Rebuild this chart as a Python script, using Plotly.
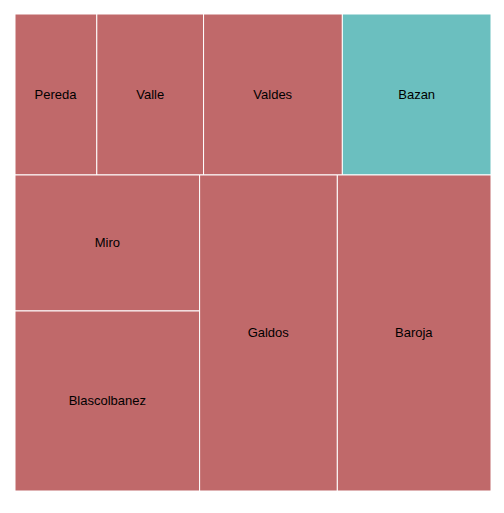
import plotly.graph_objects as go

labels = ["Pereda", "Valle", "Valdes", "Bazan", "Miro", "Blascolbanez", "Galdos", "Baroja"]
values = [5.8, 7.57, 9.84, 10.54, 11.06, 14.64, 19.17, 21.39]
highlight = ["Bazan"]

base_color = "#C0696A"
hi_color = "#6BBFBF"
colors = [hi_color if l in highlight else base_color for l in labels]

fig = go.Figure(go.Treemap(
    labels=labels,
    parents=[""] * len(labels),
    values=values,
    sort=False,
    marker=dict(colors=colors, line=dict(color="white", width=1), depthfade=False,
                pad=dict(t=0, l=0, r=0, b=0)),
    tiling=dict(packing="squarify", squarifyratio=1.618, pad=0),
    pathbar=dict(visible=False),
    textinfo="label",
    textposition="middle center",
    textfont=dict(family="Liberation Sans, Arial, sans-serif", size=13, color="black"),
    hoverinfo="label+value",
))
fig.update_layout(
    width=504, height=513,
    margin=dict(l=15, r=13, t=14, b=22),
    paper_bgcolor="white",
    font=dict(family="Liberation Sans, Arial, sans-serif"),
)
fig.write_html("out.html")
